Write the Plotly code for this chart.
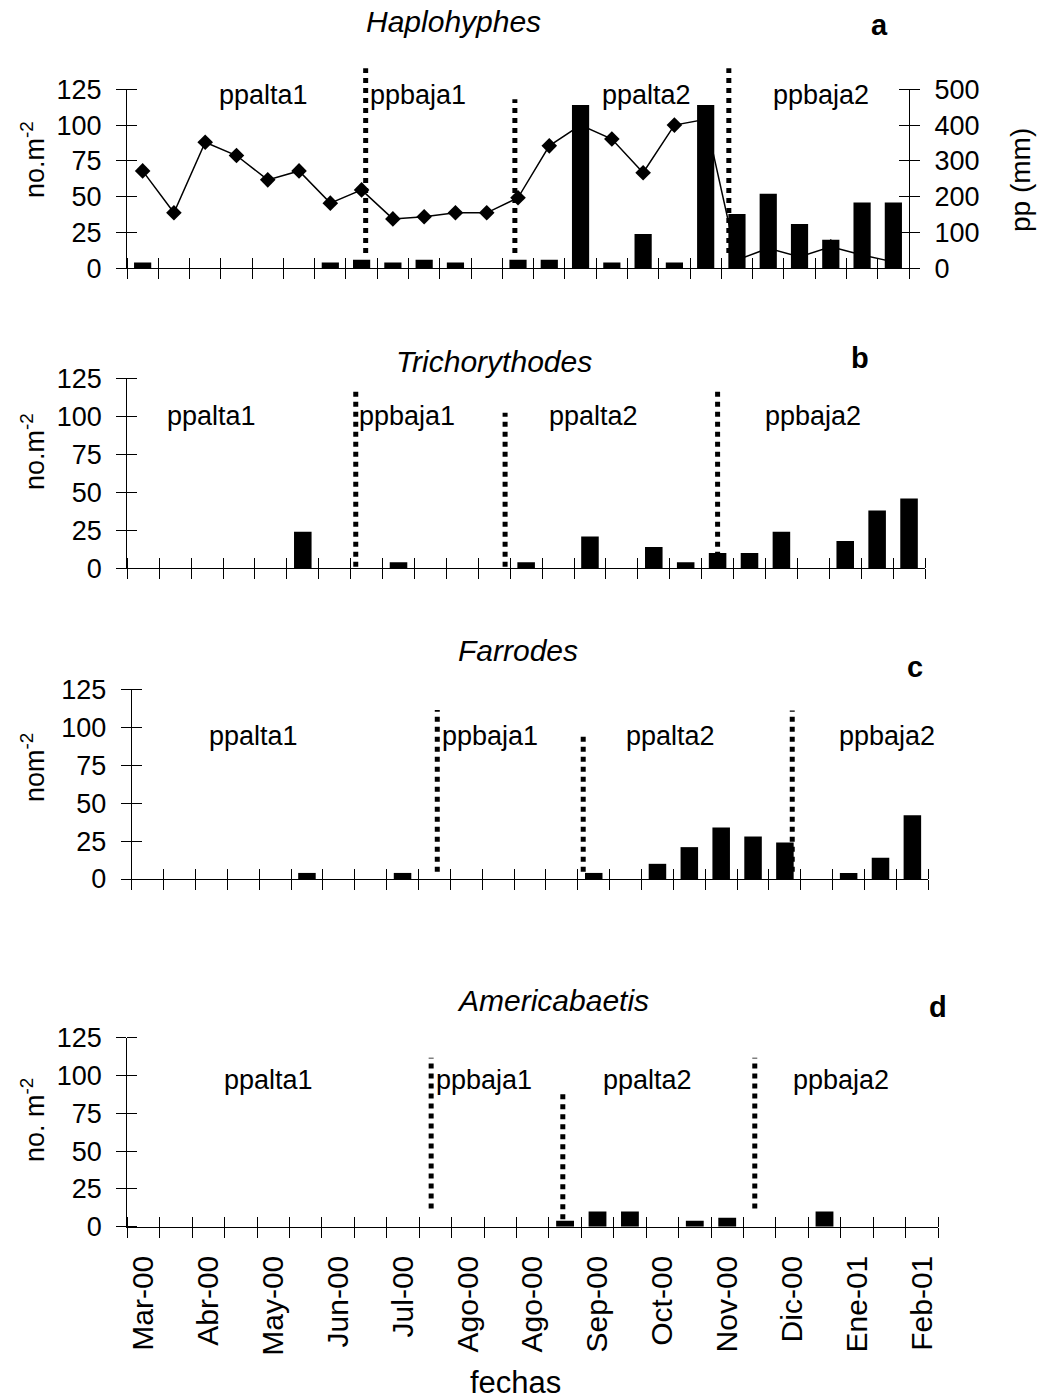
import plotly.graph_objects as go

# ---------------- data ----------------
n_samples = 25
sample_idx = list(range(n_samples))
month_labels = ["Mar-00", "Abr-00", "May-00", "Jun-00", "Jul-00", "Ago-00", "Ago-00",
                "Sep-00", "Oct-00", "Nov-00", "Dic-00", "Ene-01", "Feb-01"]
month_label_idx = list(range(0, 25, 2))

haplohyphes = [4, 0, 0, 0, 0, 0, 4, 6, 4, 6, 4, 0, 6, 6, 114, 4, 24, 4, 114, 38, 52, 31, 20, 46, 46]
precip_mm = [272, 155, 352, 315, 247, 272, 182, 219, 138, 144, 155, 155, 197, 342, 400, 361, 267,
             400, 416, 23, 56, 32, 60, 37, 18]
trichorythodes = [0, 0, 0, 0, 0, 24, 0, 0, 4, 0, 0, 0, 4, 0, 21, 0, 14, 4, 10, 10, 24, 0, 18, 38, 46]
farrodes = [0, 0, 0, 0, 0, 4, 0, 0, 4, 0, 0, 0, 0, 0, 4, 0, 10, 21, 34, 28, 24, 0, 4, 14, 42]
americabaetis = [0, 0, 0, 0, 0, 0, 0, 0, 0, 0, 0, 0, 0, 4, 10, 10, 0, 4, 6, 0, 0, 10, 0, 0, 0]

period_names = ["ppalta1", "ppbaja1", "ppalta2", "ppbaja2"]
density_ticks = [0, 25, 50, 75, 100, 125]
precip_ticks = [0, 100, 200, 300, 400, 500]

# ---------------- layout helpers ----------------
W, H = 1042, 1399
FONT = "Liberation Sans, Arial, sans-serif"
BOUNDS = [i - 0.5 for i in range(n_samples + 1)]


def px_x(p):
    return p / W


def px_y(p):
    return 1 - p / H


def nudge(vals, lo, hi, eps):
    """tiny offset so minor (inside) ticks sit on the same pixel as major ticks"""
    out = []
    for v in vals:
        out.append(v - eps if v + eps > hi else v + eps)
    return out


# panel geometry in pixels: (x_left, x_right), (y_top(125), y_bottom(0))
panels = [
    dict(name="Haplohyphes", letter="a", x=(127, 909), y=(89.3, 268.3), data=haplohyphes,
         ytitle="no.m<sup>-2</sup>", ytitle_y=160, title_xy=(453, 22), letter_xy=(879, 25),
         splits=[(7.13, 10.7, 139.7), (11.9, 10.7, 118), (18.74, 10.7, 139.7)],
         labels=[(3.85, 121), (8.8, 121), (16.1, 121), (21.7, 121)]),
    dict(name="Trichorythodes", letter="b", x=(127.3, 925), y=(378.3, 568.3), data=trichorythodes,
         ytitle="no.m<sup>-2</sup>", ytitle_y=452, title_xy=(494, 362), letter_xy=(860, 358),
         splits=[(6.66, 1, 117.3), (11.34, 1, 102.4), (18.0, 1, 116.8)],
         labels=[(2.15, 100), (8.26, 100), (14.1, 100), (21.0, 100)]),
    dict(name="Farrodes", letter="c", x=(131.7, 928.3), y=(689.3, 879), data=farrodes,
         ytitle="nom<sup>-2</sup>", ytitle_y=768, title_xy=(518, 650), letter_xy=(915, 667),
         splits=[(9.09, 4.8, 111.4), (13.67, 4.8, 96.4), (20.23, 4.8, 111)],
         labels=[(3.32, 94), (10.75, 94), (16.42, 94), (23.2, 94)]),
    dict(name="Americabaetis", letter="d", x=(127.3, 938), y=(1037.7, 1226.7), data=americabaetis,
         ytitle="no. m<sup>-2</sup>", ytitle_y=1120, title_xy=(553, 1000), letter_xy=(938, 1007),
         splits=[(8.87, 12, 111.8), (12.93, 5, 89.7), (18.85, 12, 111.8)],
         labels=[(3.85, 97), (10.49, 97), (15.53, 97), (21.5, 97)]),
]

TICKFONT = dict(family=FONT, size=27, color="black")

fig = go.Figure()
layout = dict(width=W, height=H, margin=dict(l=0, r=0, t=0, b=0),
              paper_bgcolor="white", plot_bgcolor="white", showlegend=False,
              font=dict(family=FONT, color="black"))
annotations = []
shapes = []

main_x = ["x", "x2", "x3", "x4"]
bar_y = ["y2", "y3", "y4", "y5"]


def axkey(aid):
    return aid[0] + "axis" + aid[1:]


def xaxis_def(dom, anchor):
    return dict(domain=dom, range=[-0.5, n_samples - 0.5], anchor=anchor,
                tickmode="array", tickvals=BOUNDS, ticks="outside",
                ticklen=10, tickwidth=1, tickcolor="black", showticklabels=False,
                minor=dict(tickmode="array",
                           tickvals=nudge(BOUNDS, -0.5, n_samples - 0.5, 1e-4),
                           ticks="inside", ticklen=10, tickwidth=1, tickcolor="black"),
                showline=True, linecolor="black", linewidth=1,
                showgrid=False, zeroline=False, automargin=False)


def yaxis_def(rng, tv, side, anchor):
    return dict(range=rng, anchor=anchor, side=side, tickmode="array", tickvals=tv,
                ticks="outside", ticklen=10, tickwidth=1, tickcolor="black",
                minor=dict(tickmode="array", tickvals=nudge(tv, rng[0], rng[1], rng[1] * 1e-5),
                           ticks="inside", ticklen=10, tickwidth=1, tickcolor="black"),
                showline=True, linecolor="black", linewidth=1,
                showgrid=False, zeroline=False, automargin=False,
                tickfont=TICKFONT, ticklabelstandoff=9)


for i, p in enumerate(panels):
    xd = [px_x(p["x"][0]), px_x(p["x"][1])]
    yd = [px_y(p["y"][1]), px_y(p["y"][0])]
    xm, yb = main_x[i], bar_y[i]
    anchor_y = "y" if i == 0 else yb

    layout[axkey(xm)] = xaxis_def(xd, anchor_y)

    ya = yaxis_def([0, 125], density_ticks, "left", xm)
    if i == 0:
        ya.update(overlaying="y")
    else:
        ya.update(domain=yd)
    layout[axkey(yb)] = ya

    if i == 0:
        # precipitation (right axis) is the base subplot so the bars draw on top of the line
        yr = yaxis_def([0, 500], precip_ticks, "right", "x")
        yr.update(domain=yd)
        layout["yaxis"] = yr
        fig.add_trace(go.Scatter(x=sample_idx, y=precip_mm, mode="lines+markers",
                                 line=dict(color="black", width=1.5),
                                 marker=dict(symbol="diamond", size=12, color="black"),
                                 xaxis="x", yaxis="y", showlegend=False))

    fig.add_trace(go.Bar(x=sample_idx, y=p["data"], width=0.55,
                         marker=dict(color="black", line=dict(width=0)),
                         xaxis=xm, yaxis=yb, showlegend=False))

    # dotted period separators
    for (pos, lo, hi) in p["splits"]:
        shapes.append(dict(type="line", xref=xm, yref=yb + " domain", x0=pos, x1=pos,
                           y0=lo / 125, y1=hi / 125, layer="below",
                           line=dict(color="black", width=5, dash="dot")))

    # period labels
    for name, (lx, ly) in zip(period_names, p["labels"]):
        annotations.append(dict(text=name, x=lx, y=ly, xref=xm, yref=yb, showarrow=False,
                                font=dict(family=FONT, size=27, color="black"),
                                xanchor="center", yanchor="middle"))

    # panel title & letter
    annotations.append(dict(text="<i>" + p["name"] + "</i>", x=px_x(p["title_xy"][0]),
                            y=px_y(p["title_xy"][1]), xref="paper", yref="paper",
                            showarrow=False, xanchor="center", yanchor="middle",
                            font=dict(family=FONT, size=30, color="black")))
    annotations.append(dict(text="<b>" + p["letter"] + "</b>", x=px_x(p["letter_xy"][0]),
                            y=px_y(p["letter_xy"][1]), xref="paper", yref="paper",
                            showarrow=False, xanchor="center", yanchor="middle",
                            font=dict(family=FONT, size=29, color="black")))
    # y title
    annotations.append(dict(text=p["ytitle"], x=px_x(33), y=px_y(p["ytitle_y"]),
                            xref="paper", yref="paper", showarrow=False, textangle=-90,
                            xanchor="center", yanchor="middle",
                            font=dict(family=FONT, size=27, color="black")))

# month labels on the bottom panel, centred on sample positions (overlay axis)
layout["xaxis9"] = dict(domain=[px_x(127.3), px_x(938)], range=[-0.5, n_samples - 0.5],
                        overlaying="x4", anchor="y5", tickmode="array",
                        tickvals=month_label_idx, ticktext=month_labels, ticks="",
                        tickangle=-90, tickfont=dict(family=FONT, size=30, color="black"),
                        ticklabelstandoff=22, showgrid=False, zeroline=False,
                        showline=False, automargin=False)
fig.add_trace(go.Scatter(x=[None], y=[None], xaxis="x9", yaxis="y5", showlegend=False,
                         hoverinfo="skip"))

# right axis title and x title
annotations.append(dict(text="pp (mm)", x=px_x(1020), y=px_y(180), xref="paper", yref="paper",
                        showarrow=False, textangle=-90, xanchor="center", yanchor="middle",
                        font=dict(family=FONT, size=28, color="black")))
annotations.append(dict(text="fechas", x=px_x(515), y=px_y(1382), xref="paper", yref="paper",
                        showarrow=False, xanchor="center", yanchor="middle",
                        font=dict(family=FONT, size=31, color="black")))

layout["annotations"] = annotations
layout["shapes"] = shapes
fig.update_layout(**layout)
fig.write_html("out.html")
